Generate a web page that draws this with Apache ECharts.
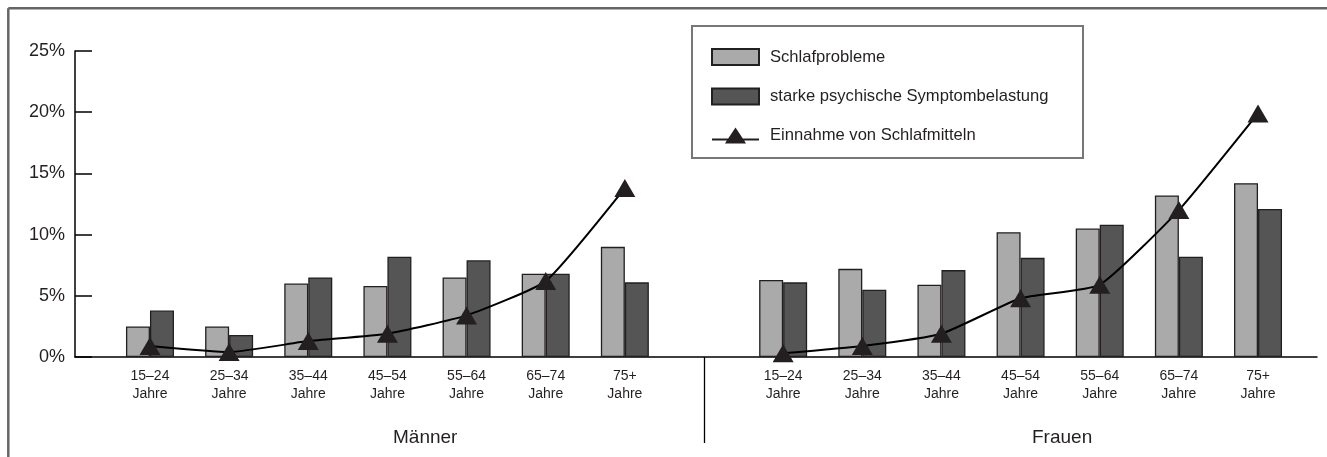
<!DOCTYPE html>
<html>
<head>
<meta charset="utf-8">
<script src="https://cdn.jsdelivr.net/npm/echarts@6/dist/echarts.min.js"></script>
<style>
html,body{margin:0;padding:0;background:#fff;}
#main{width:1327px;height:457px;}
</style>
</head>
<body>
<div id="main"></div>
<script>
// ---- data ----
const ageGroups = ['15–24\nJahre', '25–34\nJahre', '35–44\nJahre', '45–54\nJahre', '55–64\nJahre', '65–74\nJahre', '75+\nJahre'];
const groupNames = ['Männer', 'Frauen'];
const seriesNames = ['Schlafprobleme', 'starke psychische Symptombelastung', 'Einnahme von Schlafmitteln'];
const schlafproblemeMaenner = [2.5, 2.5, 6.0, 5.8, 6.5, 6.8, 9.0];
const schlafproblemeFrauen = [6.3, 7.2, 5.9, 10.2, 10.5, 13.2, 14.2];
const symptomMaenner = [3.8, 1.8, 6.5, 8.2, 7.9, 6.8, 6.1];
const symptomFrauen = [6.1, 5.5, 7.1, 8.1, 10.8, 8.2, 12.1];
const schlafmittelMaenner = [0.9, 0.4, 1.3, 1.9, 3.4, 6.2, 13.8];
const schlafmittelFrauen = [0.3, 0.9, 1.9, 4.8, 5.9, 12.0, 19.9];
const yTicks = [0, 5, 10, 15, 20, 25];

// combined category axis: men, spacer, women
const categories = ageGroups.concat([' '], ageGroups);
const join = (a, b) => a.concat([null], b);
const dataSchlaf = join(schlafproblemeMaenner, schlafproblemeFrauen);
const dataSymptom = join(symptomMaenner, symptomFrauen);
const dataMittel = join(schlafmittelMaenner, schlafmittelFrauen);
const spacerIndex = ageGroups.length;

const FONT = '"Liberation Sans", Arial, Helvetica, sans-serif';
const TXT = '#231f20';

const chart = echarts.init(document.getElementById('main'), null, {renderer: 'canvas'});

const lineIcon = 'path://M0,11 L16.2,11 L23.5,0 L30.8,11 L47,11 L47,13 L32.2,13 L34,16 L13,16 L14.8,13 L0,13 Z';

chart.setOption({
  animation: false,
  backgroundColor: '#fff',
  textStyle: {fontFamily: FONT},
  grid: [
    {left: 110.4, right: 29.4, top: 51, bottom: 100},
    {left: 75, right: 10, top: 51, bottom: 100}
  ],
  xAxis: [
    {
      gridIndex: 0, type: 'category', data: categories,
      axisLine: {show: false},
      axisTick: {show: true, alignWithLabel: true, interval: (i) => i === spacerIndex, length: 86,
        lineStyle: {color: '#000', width: 1.3}},
      axisLabel: {interval: 0, fontSize: 14, lineHeight: 18, margin: 10, color: TXT, fontFamily: FONT},
      splitLine: {show: false}
    },
    {
      gridIndex: 1, type: 'value', min: 0, max: 1,
      axisLine: {show: true, lineStyle: {color: '#000', width: 1.5}},
      axisTick: {show: false}, axisLabel: {show: false}, splitLine: {show: false}
    }
  ],
  yAxis: [
    {gridIndex: 0, type: 'value', min: yTicks[0], max: yTicks[yTicks.length - 1], interval: 5, show: false},
    {
      gridIndex: 1, type: 'value', min: yTicks[0], max: yTicks[yTicks.length - 1], interval: 5,
      axisLine: {show: true, lineStyle: {color: '#000', width: 1.5}},
      axisTick: {show: true, inside: true, length: 17, lineStyle: {color: '#000', width: 1.5}},
      axisLabel: {formatter: '{value}%', fontSize: 18, color: TXT, margin: 10, fontFamily: FONT},
      splitLine: {show: false}
    }
  ],
  legend: {
    left: 711, top: 48, orient: 'vertical', padding: 0,
    itemWidth: 47, itemHeight: 16, itemGap: 21.5,
    textStyle: {fontSize: 16.6, color: TXT, fontFamily: FONT, padding: [0, 0, 0, 6]},
    data: [
      {name: seriesNames[0], icon: 'rect'},
      {name: seriesNames[1], icon: 'rect'},
      {name: seriesNames[2], icon: lineIcon}
    ],
    z: 20
  },
  graphic: [
    {type: 'line', shape: {x1: 8.3, y1: 8.3, x2: 1327, y2: 8.3}, style: {stroke: '#666', lineWidth: 2.5}},
    {type: 'line', shape: {x1: 8.3, y1: 8.3, x2: 8.3, y2: 457}, style: {stroke: '#666', lineWidth: 2.5}},
    {type: 'rect', shape: {x: 692, y: 26, width: 391, height: 132}, style: {fill: '#fff', stroke: '#777', lineWidth: 2}, z: 5},
    {type: 'text', left: 393, top: 428, style: {text: groupNames[0], fontSize: 19, fill: TXT, fontFamily: FONT}},
    {type: 'text', left: 1032, top: 428, style: {text: groupNames[1], fontSize: 19, fill: TXT, fontFamily: FONT}}
  ],
  series: [
    {
      name: seriesNames[0], type: 'bar', xAxisIndex: 0, yAxisIndex: 0, data: dataSchlaf,
      barWidth: 24, barGap: '0%',
      itemStyle: {color: '#aaaaaa', borderColor: '#231f20', borderWidth: 1.3}
    },
    {
      name: seriesNames[1], type: 'bar', xAxisIndex: 0, yAxisIndex: 0, data: dataSymptom,
      barWidth: 24, barGap: '0%',
      itemStyle: {color: '#555555', borderColor: '#231f20', borderWidth: 1.3}
    },
    {
      name: seriesNames[2], type: 'line', xAxisIndex: 0, yAxisIndex: 0, data: dataMittel,
      smooth: 0.15, connectNulls: false,
      symbol: 'triangle', symbolSize: [21, 18], showAllSymbol: true,
      lineStyle: {color: '#000', width: 2},
      itemStyle: {color: '#231f20'},
      z: 10
    }
  ]
});
</script>
</body>
</html>
